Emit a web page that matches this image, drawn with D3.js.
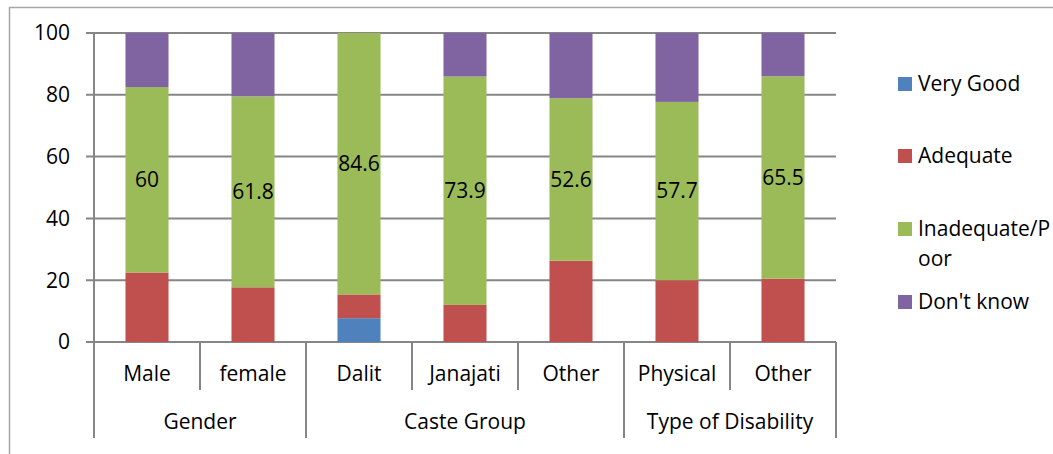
<!DOCTYPE html>
<html lang="en">
<head>
<meta charset="utf-8">
<title>Stacked bars</title>
<script src="https://d3js.org/d3.v7.min.js"></script>
<style>
  body { margin: 0; background: #fff; }
  text { font-family: "Open Sans", Lato, sans-serif; fill: #000; }
</style>
</head>
<body>
<div id="chart"></div>
<script>
// categories and their groups
var categories = ["Male", "female", "Dalit", "Janajati", "Other", "Physical", "Other"];
var groups = [
  { name: "Gender", from: 0, to: 2 },
  { name: "Caste Group", from: 2, to: 5 },
  { name: "Type of Disability", from: 5, to: 7 }
];
var seriesNames = ["Very Good", "Adequate", "Inadequate/Poor", "Don't know"];
var colors = ["#4F81BD", "#C0504D", "#9BBB59", "#8064A2"];

// values (percent)
var veryGood   = [0, 0, 7.7, 0, 0, 0, 0];
var adequate   = [22.5, 17.7, 7.7, 12.0, 26.3, 20.0, 20.5];
var inadequate = [60, 61.8, 84.6, 73.9, 52.6, 57.7, 65.5];
var dontKnow   = [17.5, 20.5, 0, 14.1, 21.1, 22.3, 14.0];
var yTicks = [0, 20, 40, 60, 80, 100];

var W = 1053, H = 454;
var plotL = 94, plotR = 836, plotT = 33, plotB = 342;
var fs = "21px";

var svg = d3.select("#chart").append("svg")
  .attr("width", W).attr("height", H);

// chart frame
svg.append("rect")
  .attr("x", 9.5).attr("y", 7.5)
  .attr("width", W + 20).attr("height", H + 20)
  .attr("fill", "none").attr("stroke", "#a6a6a6").attr("stroke-width", 1.5);

var x = d3.scaleBand().domain(d3.range(categories.length)).range([plotL, plotR]).padding(0);
var y = d3.scaleLinear().domain([0, 100]).range([plotB, plotT]);
var barW = x.bandwidth() * 0.406;

// gridlines
svg.append("g").selectAll("line").data(yTicks).enter().append("line")
  .attr("x1", plotL - 8).attr("x2", plotR)
  .attr("y1", function(d) { return y(d); }).attr("y2", function(d) { return y(d); })
  .attr("stroke", "#868686").attr("stroke-width", 2);

// y axis labels
svg.append("g").selectAll("text").data(yTicks).enter().append("text")
  .attr("x", 70).attr("y", function(d) { return y(d); })
  .attr("dy", "0.35em").attr("text-anchor", "end")
  .style("font-size", fs)
  .text(function(d) { return d; });

// stacked data
var rows = categories.map(function(c, i) {
  return { i: i, "Very Good": veryGood[i], "Adequate": adequate[i],
           "Inadequate/Poor": inadequate[i], "Don't know": dontKnow[i] };
});
var stack = d3.stack().keys(seriesNames)(rows);

svg.append("g").selectAll("g").data(stack).enter().append("g")
  .attr("fill", function(d, k) { return colors[k]; })
  .selectAll("rect").data(function(d) { return d; }).enter().append("rect")
    .attr("x", function(d) { return x(d.data.i) + (x.bandwidth() - barW) / 2; })
    .attr("width", barW)
    .attr("y", function(d) { return y(d[1]); })
    .attr("height", function(d) { return y(d[0]) - y(d[1]); });

// labels on the green segments
var green = stack[2];
svg.append("g").selectAll("text").data(green).enter().append("text")
  .attr("x", function(d) { return x(d.data.i) + x.bandwidth() / 2; })
  .attr("y", function(d) { return y((d[0] + d[1]) / 2); })
  .attr("dy", "0.35em").attr("text-anchor", "middle")
  .style("font-size", fs)
  .text(function(d) { return d.data["Inadequate/Poor"]; });

// axis lines
svg.append("line").attr("x1", plotL).attr("x2", plotL).attr("y1", plotT).attr("y2", plotB)
  .attr("stroke", "#868686").attr("stroke-width", 2);

var catY = 390, grpY = 438;
var axisG = svg.append("g").attr("stroke", "#868686").attr("stroke-width", 2);
d3.range(categories.length + 1).forEach(function(k) {
  var xx = k < categories.length ? x(k) : plotR;
  var isGroupEdge = groups.some(function(g) { return g.from === k || g.to === k; });
  axisG.append("line").attr("x1", xx).attr("x2", xx)
    .attr("y1", plotB).attr("y2", isGroupEdge ? grpY : catY);
});

svg.append("g").selectAll("text").data(categories).enter().append("text")
  .attr("x", function(d, i) { return x(i) + x.bandwidth() / 2; })
  .attr("y", 381).attr("text-anchor", "middle")
  .style("font-size", fs)
  .text(function(d) { return d; });

svg.append("g").selectAll("text").data(groups).enter().append("text")
  .attr("x", function(g) { return (x(g.from) + (g.to < categories.length ? x(g.to) : plotR)) / 2; })
  .attr("y", 429).attr("text-anchor", "middle")
  .style("font-size", fs)
  .text(function(g) { return g.name; });

// legend
var legendY = [84, 156, 229, 302];
var leg = svg.append("g").selectAll("g").data(seriesNames).enter().append("g")
  .attr("transform", function(d, k) { return "translate(898," + legendY[k] + ")"; });
leg.append("rect").attr("x", 0).attr("y", -7).attr("width", 14).attr("height", 14)
  .attr("fill", function(d, k) { return colors[k]; });
leg.append("text").attr("x", 20).attr("dy", "0.35em")
  .style("font-size", fs)
  .each(function(d) {
    var t = d3.select(this);
    if (d === "Inadequate/Poor") {
      t.append("tspan").attr("x", 20).text("Inadequate/P");
      t.append("tspan").attr("x", 20).attr("dy", "1.4em").text("oor");
    } else {
      t.text(d);
    }
  });
</script>
</body>
</html>
